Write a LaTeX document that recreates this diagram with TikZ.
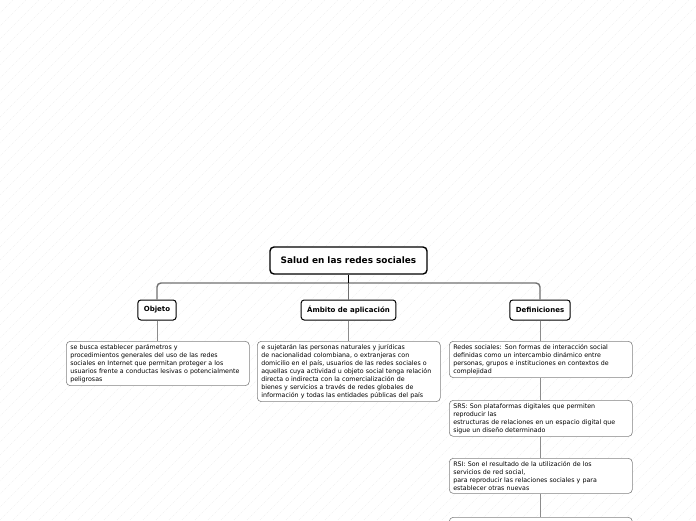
\documentclass[tikz,border=0pt]{standalone}
\usepackage{fontspec}
\setmainfont{DejaVu Sans}
\usepackage{xcolor}
\usepackage{tikz}
\definecolor{bargray}{RGB}{112, 112, 112}
\definecolor{linegray}{RGB}{140, 140, 140}
\definecolor{boxgray}{RGB}{130, 130, 130}
\definecolor{hatchgray}{RGB}{240, 240, 240}

\tikzset{
    rootbox/.style={draw=black, line width=1.4pt, rounded corners=4pt, fill=white,
        font=\bfseries\fontsize{8.9}{10}\selectfont, minimum width=157pt, minimum height=27pt},
    topicbox/.style={draw=black, line width=1pt, rounded corners=3pt, fill=white,
        font=\bfseries\fontsize{7}{8}\selectfont, minimum height=20pt, inner xsep=6pt},
    leafbox/.style={draw=boxgray, line width=0.6pt, rounded corners=4pt, fill=white,
        font=\fontsize{6.3}{8}\selectfont, align=left, text width=175pt,
        inner xsep=4pt, inner ysep=3pt, anchor=north west},
    bar/.style={draw=bargray, line width=1.4pt, rounded corners=4pt},
    twig/.style={draw=linegray, line width=0.7pt}
}

\begin{document}
\begin{tikzpicture}[x=1pt, y=-1pt]
    \useasboundingbox (0,0) rectangle (696,520);
    \clip (0,0) rectangle (696,520);
    % hatched background
    \foreach \i in {-520,-507,...,700} {
        \draw[hatchgray, line width=0.5pt, dash pattern=on 1pt off 1pt] (\i,520) -- ++(520,-520);
    }

    % main topic and branches
    \node[rootbox] (root) at (348.5,260.5) {Salud en las redes sociales};
    \coordinate (fork) at (348.5,283);

    \node[topicbox] (objeto) at (157,310) {Objeto};
    \node[topicbox] (ambito) at (348.5,310) {Ámbito de aplicación};
    \node[topicbox] (defin) at (540,310) {Definiciones};

    % leaves
    \node[leafbox] (objtext) at (66,341) {se busca establecer parámetros y\\
        procedimientos generales del uso de las redes\\
        sociales en Internet que permitan proteger a los\\
        usuarios frente a conductas lesivas o potencialmente\\
        peligrosas};
    \node[leafbox] (ambtext) at (257,341) {e sujetarán las personas naturales y jurídicas\\
        de nacionalidad colombiana, o extranjeras con\\
        domicilio en el país, usuarios de las redes sociales o\\
        aquellas cuya actividad u objeto social tenga relación\\
        directa o indirecta con la comercialización de\\
        bienes y servicios a través de redes globales de\\
        información y todas las entidades públicas del país};
    \node[leafbox] (redes) at (449,341) {Redes sociales: Son formas de interacción social\\
        definidas como un intercambio dinámico entre\\
        personas, grupos e instituciones en contextos de\\
        complejidad};
    \node[leafbox] (srs) at (449,400) {SRS: Son plataformas digitales que permiten\\
        reproducir las\\
        estructuras de relaciones en un espacio digital que\\
        sigue un diseño determinado};
    \node[leafbox] (rsi) at (449,458) {RSI: Son el resultado de la utilización de los\\
        servicios de red social,\\
        para reproducir las relaciones sociales y para\\
        establecer otras nuevas};
    \node[leafbox, minimum height=38pt] (more) at (449,517) {};

    % connectors
    \draw[bar] (objeto.north) |- (fork) -| (defin.north);
    \draw[black, line width=1.2pt] (root.south) -- (fork);
    \draw[bar] (fork) -- (ambito.north);
    \draw[twig] (objeto.south) -- (objtext.north -| objeto.south);
    \draw[twig] (ambito.south) -- (ambtext.north -| ambito.south);
    \draw[twig] (defin.south) -- (redes.north -| defin.south);
    \draw[twig] (redes.south -| defin.south) -- (srs.north -| defin.south);
    \draw[twig] (srs.south -| defin.south) -- (rsi.north -| defin.south);
    \draw[twig] (rsi.south -| defin.south) -- (more.north -| defin.south);
\end{tikzpicture}
\end{document}
